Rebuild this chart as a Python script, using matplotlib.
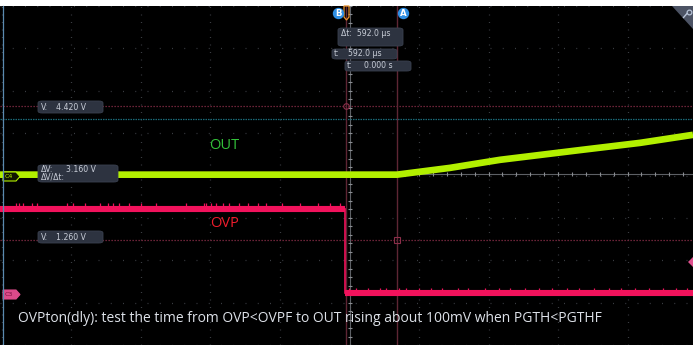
import matplotlib.pyplot as plt
from matplotlib.patches import FancyBboxPatch, Polygon
from matplotlib.lines import Line2D
import numpy as np

# horizontal: time in us (cursor B = 0), vertical: screen divisions
US_PER_PX = 592.0 / 51
US_PER_DIV = 69.5 * US_PER_PX
T_CENTER = 3.5 * US_PER_PX
XLIM = (-346 * US_PER_PX, 347 * US_PER_PX)

# C3 (OVP): 1 V/div, ground 2.78 div below centre
C3_OFFSET = -2.78
# C4 (OUT): 100 mV/div, offset at centre
C4_MV_PER_DIV = 100.0

# OUT waveform (mV above offset)
out_t = [-4016, 592, 1207, 1788, 2716, 3413, 4028]
out_mv = [2, 2, 18, 37, 60, 77, 96]

# OVP waveform (V)
ovp_t = [-4016, -12, -12, 4028]
ovp_v = [2.0, 2.0, 0.0, 0.0]

# narrow glitches on the OVP trace (us)
ovp_glitch_hi = [-3830, -3795, -3750, -3645, -3590, -3240, -3170, -3030, -2850,
                 -2765, -2705, -2635, -2520, -2380, -2205, -1860, -1650, -1625,
                 -1570, -1510, -1430, -1360, -1245, -1140, -1025, -930, -740,
                 -530, -325, -185, -70]
ovp_glitch_lo = [30, 120, 260, 390, 470, 620, 700, 850, 990, 1120, 1300, 1420,
                 1610, 1780, 1900, 2080, 2240, 2390, 2560, 2700, 2880, 3050,
                 3190, 3350, 3520, 3680, 3830, 3960]

# cursors
cursor_t = {'B': 0.0, 'A': 592.0}
cursor_v = [4.420, 1.260]
cyan_level = 4.11
trig_level = 0.75

GREEN = '#b2f000'
PINK = '#f2125c'
GRID = '#3a3d42'
LABEL = '#c9ced8'

fig = plt.figure(figsize=(6.93, 3.45), dpi=100)
fig.patch.set_facecolor('white')
ax = fig.add_axes([0, 0, 1, 339 / 345])
ax.set_facecolor('black')
ax.set_xlim(*XLIM)
ax.set_ylim(-4, 4)
ax.set_xticks([])
ax.set_yticks([])
for s in ax.spines.values():
    s.set_visible(False)

# graticule
for k in range(-5, 6):
    ax.axvline(T_CENTER + k * US_PER_DIV, color=GRID, lw=0.9, dashes=(0.8, 5.2))
for k in range(-4, 5):
    ax.axhline(k, color=GRID, lw=0.9, dashes=(0.8, 9.0))
ax.axvline(T_CENTER, color='#5d6065', lw=0.8)
ax.axhline(0.03, color='#5d6065', lw=0.8)
minor_x = T_CENTER + np.arange(-25, 26) * US_PER_DIV / 5
ax.plot(minor_x, np.full(minor_x.size, 0.03), ls='none', marker='|', ms=3,
        mew=0.8, color='#8a8d92')
minor_y = np.arange(-20, 21) / 5
ax.plot(np.full(minor_y.size, T_CENTER), minor_y, ls='none', marker='_', ms=3,
        mew=0.8, color='#8a8d92')

# cursor levels and times
for v in cursor_v:
    ax.axhline(v + C3_OFFSET, color='#8c2f4a', lw=0.9, dashes=(1.0, 1.4))
ax.axhline(cyan_level + C3_OFFSET, color='#1a6a78', lw=0.9, dashes=(1.2, 0.8))
for name, t in cursor_t.items():
    ax.axvline(t, color='#5e2634', lw=1.0)
ax.plot(cursor_t['B'], cursor_v[0] + C3_OFFSET, marker='o', ms=4, mfc='none',
        mec='#8c2f4a', mew=0.8)
ax.plot(cursor_t['A'], cursor_v[1] + C3_OFFSET, marker='s', ms=5, mfc='none',
        mec='#8c2f4a', mew=0.8)

# OVP trace
ovp_div = np.array(ovp_v) + C3_OFFSET
ax.plot(ovp_t, ovp_div, color=PINK, lw=1.2, solid_joinstyle='miter')
for i in range(len(ovp_t) - 1):
    if ovp_v[i] == ovp_v[i + 1]:
        ax.plot(ovp_t[i:i + 2], ovp_div[i:i + 2], color=PINK, lw=4.4,
                solid_capstyle='butt')
ax.vlines(ovp_glitch_hi, 2.0 + C3_OFFSET, 2.0 + C3_OFFSET + 0.12,
          color=PINK, lw=0.9)
ax.vlines(ovp_glitch_lo, C3_OFFSET, C3_OFFSET + 0.13, color=PINK, lw=0.9)

# OUT trace
out_div = np.array(out_mv) / C4_MV_PER_DIV
ax.plot(out_t, out_div, color=GREEN, lw=4.8, solid_capstyle='butt',
        solid_joinstyle='round')

ax.text(-1416, 0.70, 'OUT', color='#33c23a', fontsize=10.5, ha='center',
        va='center', family='Open Sans')
ax.text(-1405, -1.14, 'OVP', color='#ee1c2c', fontsize=10.5, ha='center',
        va='center', family='Open Sans')


# overlay widgets, placed in screen pixels
def px(x, y):
    return x / 693, 1 - y / 345


def poly(points, **kw):
    fig.add_artist(Polygon([px(x, y) for x, y in points], closed=True,
                           transform=fig.transFigure, **kw))


def tag(x0, y0, x1, y1, parts, ty=None, size=5.6):
    (fx0, fy1), (fx1, fy0) = px(x0, y0), px(x1, y1)
    fig.add_artist(FancyBboxPatch((fx0, fy0), fx1 - fx0, fy1 - fy0,
                                  boxstyle='round,pad=0,rounding_size=0.006',
                                  transform=fig.transFigure, fc='#2d3340',
                                  ec='#3a4150', lw=0.6))
    if ty is None:
        ty = (y0 + y1) / 2
    for tx, s in parts:
        fig.text(*px(tx, ty), s, color=LABEL, fontsize=size, va='center',
                 ha='left', family='DejaVu Sans')


tag(38, 101, 103, 113, [(41, 'V:'), (56, '4.420 V')])
tag(38, 231, 103, 243, [(41, 'V:'), (56, '1.260 V')])
tag(38, 165, 118, 182, [(41, 'ΔV:'), (66, '3.160 V')], ty=169.5)
fig.text(*px(41, 177.5), 'ΔV/Δt:', color=LABEL, fontsize=5.6, va='center',
         family='DejaVu Sans')
tag(338, 28, 403, 46, [(341, 'Δt:  592.0 µs')], ty=34)
tag(332, 49, 397, 59, [(334, 't:'), (348, '592.0 µs')])
tag(345, 61, 411, 71, [(347, 't:'), (364, '0.000 s')])

# cursor handles
for (cx, letter) in [(338, 'B'), (403, 'A')]:
    fig.add_artist(Line2D([cx / 693], [1 - 13 / 345], marker='o', ms=8.2,
                          mfc='#2f8fe3', mec='none', ls='none',
                          transform=fig.transFigure))
    fig.text(*px(cx, 13.3), letter, color='white', fontsize=6.2,
             fontweight='bold', ha='center', va='center')
poly([(344, 6), (349, 6), (349, 17), (346.5, 20), (344, 17)], fc='none',
     ec='#e8902a', lw=0.9)

# channel tags
poly([(3, 172), (16, 172), (20, 176.5), (16, 181), (3, 181)], fc='#111400',
     ec=GREEN, lw=0.8)
fig.text(*px(9, 176.8), 'C4', color=GREEN, fontsize=4.6, ha='center',
         va='center')
poly([(3, 290), (16, 290), (20, 294.5), (16, 299), (3, 299)], fc='#dc4a8a',
     ec='#dc4a8a', lw=0.8)
fig.text(*px(9, 294.8), 'C3', color='#7a1040', fontsize=4.6, ha='center',
         va='center')

# trigger level marker and corner button
poly([(688, 262), (693, 257), (693, 267)], fc='#e0508e', ec='none')
poly([(672, 6), (693, 6), (693, 29)], fc='#4c5364', ec='none')
fig.add_artist(Line2D([688.5 / 693], [1 - 11.5 / 345], marker='o', ms=3.4,
                      mfc='none', mec='#b8c4d8', mew=0.9, ls='none',
                      transform=fig.transFigure))
fig.add_artist(Line2D([687 / 693, 683.5 / 693], [1 - 13.5 / 345, 1 - 17.5 / 345],
                      transform=fig.transFigure, color='#b8c4d8', lw=1.0))

# left border
fig.add_artist(Line2D([2.5 / 693, 2.5 / 693], [0, 1 - 6 / 345],
                      transform=fig.transFigure, color='#5a8ab0', lw=0.9))

fig.text(*px(18, 319), 'OVPton(dly): test the time from OVP<OVPF to OUT rising '
         'about 100mV when PGTH<PGTHF', color='#dde1e8', fontsize=10.0,
         va='center', ha='left', family='Open Sans')

fig.savefig('out.png', dpi=100, facecolor=fig.get_facecolor())
